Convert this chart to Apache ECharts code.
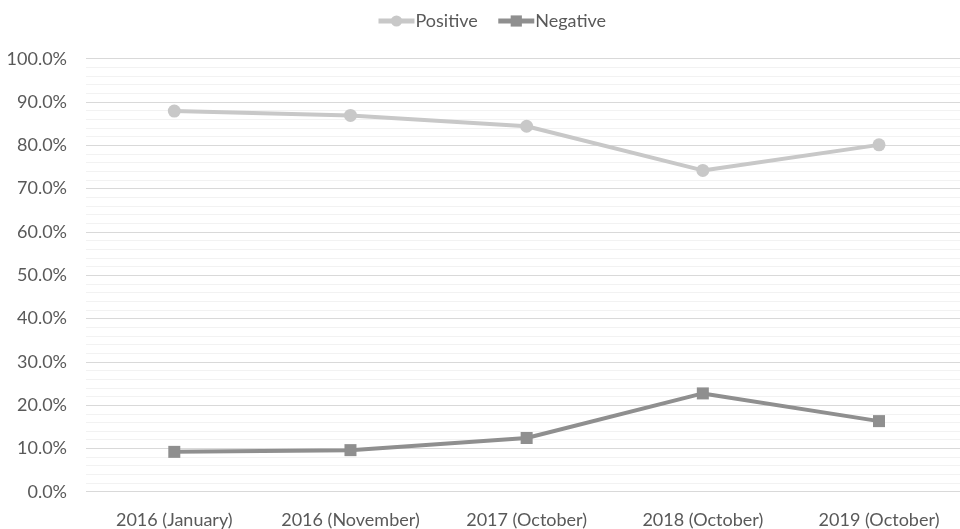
<!DOCTYPE html>
<html>
<head>
<meta charset="utf-8">
<script src="https://cdn.jsdelivr.net/npm/echarts@6/dist/echarts.min.js"></script>
<style>html,body{margin:0;padding:0;background:#fff}#c{width:960px;height:529px}</style>
</head>
<body>
<div id="c"></div>
<script>
const categories = ['2016 (January)', '2016 (November)', '2017 (October)', '2018 (October)', '2019 (October)'];
const positive = [87.9, 86.9, 84.4, 74.2, 80.1];
const negative = [9.2, 9.6, 12.4, 22.7, 16.3];

const chart = echarts.init(document.getElementById('c'));
const font = 'Lato';
const gridTop = 58.7, gridBottom = 37.3;
chart.setOption({
  animation: false,
  backgroundColor: '#fff',
  textStyle: { fontFamily: font },
  legend: {
    top: 7, left: 371, itemWidth: 36, itemHeight: 14, itemGap: 18,
    lineStyle: { width: 5 },
    textStyle: { color: '#595959', fontSize: 18, fontFamily: font, padding: [0, 0, 0, -4] },
    data: ['Positive', 'Negative']
  },
  grid: [
    { left: 86, right: 0, top: gridTop, bottom: gridBottom, containLabel: false },
    { left: 174.3, right: 81, top: gridTop, bottom: gridBottom, containLabel: false }
  ],
  xAxis: [
    { type: 'value', gridIndex: 0, min: 0, max: 1, show: true,
      axisLine: { show: false }, axisTick: { show: false }, axisLabel: { show: false }, splitLine: { show: false } },
    { type: 'category', gridIndex: 1, data: categories, boundaryGap: false,
      axisLine: { show: false }, axisTick: { show: false }, splitLine: { show: false },
      axisLabel: { color: '#595959', fontSize: 18, margin: 19, fontFamily: font, interval: 0, hideOverlap: false } }
  ],
  yAxis: [
    { type: 'value', gridIndex: 0, min: 0, max: 100, interval: 10,
      axisLabel: { color: '#595959', fontSize: 18, margin: 19, fontFamily: font,
        formatter: v => v.toFixed(1) + '%' },
      axisLine: { show: false }, axisTick: { show: false },
      splitLine: { lineStyle: { color: '#d9d9d9', width: 1 } },
      minorTick: { show: false, splitNumber: 5 },
      minorSplitLine: { show: true, lineStyle: { color: '#f2f2f2', width: 1 } } },
    { type: 'value', gridIndex: 1, min: 0, max: 100, interval: 10, show: false,
      splitLine: { show: false } }
  ],
  series: [
    { name: 'Positive', type: 'line', xAxisIndex: 1, yAxisIndex: 1, data: positive, symbol: 'circle', symbolSize: 13,
      lineStyle: { color: '#c8c8c8', width: 4 }, itemStyle: { color: '#c8c8c8' } },
    { name: 'Negative', type: 'line', xAxisIndex: 1, yAxisIndex: 1, data: negative, symbol: 'rect', symbolSize: 12,
      lineStyle: { color: '#8f8f8f', width: 4 }, itemStyle: { color: '#8f8f8f' } }
  ]
});
</script>
</body>
</html>
